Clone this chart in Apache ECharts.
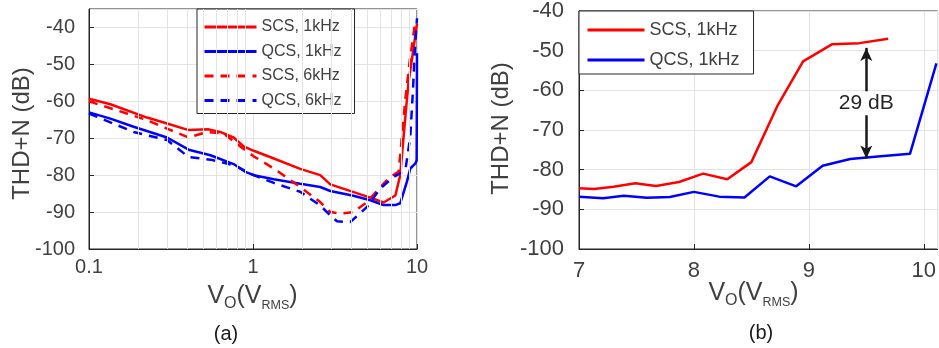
<!DOCTYPE html>
<html>
<head>
<meta charset="utf-8">
<script src="https://cdn.jsdelivr.net/npm/echarts@6/dist/echarts.min.js"></script>
<style>
  html, body { margin: 0; padding: 0; background: #fff; }
  #chart { width: 939px; height: 348px; }
</style>
</head>
<body>
<div id="chart"></div>
<script>
// (a) THD+N vs output level, log x axis
var scs1k = [[0.1, -59.3], [0.135, -60.8], [0.226, -64.4], [0.299, -66.0], [0.405, -67.8], [0.536, -67.6],
  [0.63, -68.3], [0.762, -69.8], [0.877, -72.2], [1.01, -73.4], [1.34, -75.5], [1.94, -78.3], [2.57, -80.0],
  [2.96, -82.5], [5.19, -86.1], [6.25, -87.4], [7.38, -85.5], [7.9, -80.0], [8.49, -64.2], [8.89, -54.5],
  [9.33, -48.4], [10, -39]];
var qcs1k = [[0.1, -63.0], [0.135, -64.7], [0.187, -66.9], [0.299, -69.8], [0.405, -73.1], [0.55, -74.6],
  [0.762, -77.0], [0.9, -79.1], [1.01, -80.0], [1.34, -81.1], [1.94, -82.3], [2.57, -83.2], [2.96, -84.3],
  [4.1, -85.6], [5.19, -86.8], [6.25, -88.1], [7.38, -88.1], [7.91, -87.6], [8.69, -81.7], [9.1, -78.2],
  [9.75, -76.9], [9.95, -76.0], [10, -47]];
var scs6k = [[0.1, -60.0], [0.17, -63.3], [0.226, -65.1], [0.299, -67.4], [0.405, -69.8], [0.524, -68.3],
  [0.66, -68.7], [0.84, -72.3], [1.01, -74.9], [1.34, -78.2], [1.94, -83.2], [2.57, -87.3], [2.96, -90.0],
  [3.4, -90.4], [4.1, -90.0], [4.96, -87.3], [5.97, -83.2], [6.87, -80.5], [7.73, -79.0], [8.49, -59.5],
  [9.0, -49.5], [9.75, -38.5]];
var qcs6k = [[0.1, -63.3], [0.187, -68.3], [0.226, -69.2], [0.299, -70.5], [0.405, -75.1], [0.55, -75.8],
  [0.762, -77.3], [1.01, -80.0], [1.34, -82.1], [1.94, -84.5], [2.57, -88.2], [2.96, -90.9], [3.25, -92.5],
  [3.92, -92.7], [4.96, -88.6], [5.97, -83.6], [7.2, -80.5], [8.49, -78.7], [9.1, -69.5], [9.45, -57.0],
  [9.7, -46.0], [10, -37.5]];

// (b) zoom on 7..10 V
var scs1kZoom = [[7.0, -84.7], [7.13, -84.9], [7.30, -84.3], [7.49, -83.4], [7.67, -84.1], [7.87, -83.1],
  [8.08, -81.0], [8.29, -82.4], [8.50, -78.1], [8.73, -63.7], [8.95, -52.7], [9.20, -48.4], [9.44, -48.1],
  [9.69, -47.0]];
var qcs1kZoom = [[7.0, -86.8], [7.21, -87.2], [7.39, -86.6], [7.59, -87.1], [7.79, -86.9], [8.0, -85.6],
  [8.22, -86.8], [8.44, -87.0], [8.66, -81.7], [8.89, -84.2], [9.12, -79.0], [9.36, -77.3], [9.60, -76.7],
  [9.88, -76.0], [10.11, -53.2]];

var minorGridX = [0.2, 0.3, 0.4, 0.5, 0.6, 0.7, 0.8, 0.9, 2, 3, 4, 5, 6, 7, 8, 9];
var gapX = 9.5;          // where the 29 dB arrow sits
var gapEnds = [-49.3, -77.2];
var gapLabel = '29 dB';

var FONT = "'Liberation Sans', Arial, sans-serif";
var TXT = '#404040';
var AX = '#262626';
var GRIDC = '#e3e3e3';
var RED = '#ff0000', BLUE = '#0000ff';
var DASH = [9, 7];

var chart = echarts.init(document.getElementById('chart'));

function yAxis(idx, max, size, margin) {
  return {
    type: 'value', gridIndex: idx, min: -100, max: max, interval: 10,
    axisLine: { show: true, lineStyle: { color: AX, width: 1 } },
    axisTick: { show: true, inside: true, length: 5, lineStyle: { color: AX } },
    axisLabel: { color: TXT, fontFamily: FONT, fontSize: size, margin: margin, showMaxLabel: max === -40 },
    splitLine: { show: true, lineStyle: { color: GRIDC, width: 1 } }
  };
}

function line(name, data, color, dashed, xi) {
  return {
    name: name, type: 'line', data: data, xAxisIndex: xi, yAxisIndex: xi,
    symbol: 'none', smooth: false, z: 3,
    lineStyle: { color: color, width: 2.5, type: dashed ? DASH : 'solid' },
    itemStyle: { color: color }
  };
}

// legend entry with its own line look, so the icon is a plain stroke
function entry(name, color, dashed) {
  return { name: name, lineStyle: { color: color, width: 3, type: dashed ? DASH : 'solid' } };
}

function xlabel(x, y) {
  return {
    type: 'text', x: x, y: y,
    style: {
      text: '{v|V}{o|O}{v|(V}{r|RMS}{v|)}',
      fill: TXT, align: 'center', verticalAlign: 'top',
      rich: {
        v: { fontFamily: FONT, fontSize: 25, lineHeight: 25, padding: [0, 0, 3, 0], verticalAlign: 'bottom', fill: TXT },
        o: { fontFamily: FONT, fontSize: 16, lineHeight: 16, verticalAlign: 'bottom', fill: TXT },
        r: { fontFamily: FONT, fontSize: 12.5, lineHeight: 12.5, verticalAlign: 'bottom', fill: TXT }
      }
    }
  };
}

function legend(items, left, top, w, size, gap, pad) {
  return {
    data: items, orient: 'vertical', left: left, top: top,
    itemWidth: w, itemHeight: 2, itemGap: gap, padding: pad,
    backgroundColor: '#fff', borderColor: AX, borderWidth: 1, borderRadius: 0,
    itemStyle: { opacity: 0 },
    textStyle: { color: TXT, fontFamily: FONT, fontSize: size, lineHeight: size },
    selectedMode: false
  };
}

var option = {
  backgroundColor: '#fff',
  animation: false,
  grid: [
    { left: 89, top: 9, width: 328, height: 240, show: true, borderColor: AX, borderWidth: 1, backgroundColor: '#fff' },
    { left: 579, top: 11, width: 361, height: 238, show: true, borderColor: AX, borderWidth: 1, backgroundColor: '#fff' }
  ],
  xAxis: [
    {
      type: 'log', logBase: 10, gridIndex: 0, min: 0.1, max: 10,
      axisLine: { show: true, lineStyle: { color: AX } },
      axisTick: { show: true, inside: true, length: 5, lineStyle: { color: AX } },
      axisLabel: {
        color: TXT, fontFamily: FONT, fontSize: 20, margin: 8,
        formatter: function (v) { return String(+(+v).toPrecision(3)); }
      },
      splitLine: { show: true, lineStyle: { color: GRIDC } }
    },
    {
      type: 'value', gridIndex: 1, min: 7, max: 10.12, interval: 1,
      axisLine: { show: true, lineStyle: { color: AX } },
      axisTick: { show: true, inside: true, length: 5, lineStyle: { color: AX } },
      axisLabel: { color: TXT, fontFamily: FONT, fontSize: 22, margin: 11, showMaxLabel: false },
      splitLine: { show: true, lineStyle: { color: GRIDC } }
    }
  ],
  yAxis: [yAxis(0, -35, 20, 14), yAxis(1, -40, 22, 15)],
  legend: [
    legend([entry('SCS, 1kHz', RED, false), entry('QCS, 1kHz', BLUE, false),
            entry('SCS, 6kHz', RED, true), entry('QCS, 6kHz', BLUE, true)],
           197, 9, 52, 16, 8.5, [10, 13, 5, 6]),
    legend([entry('SCS, 1kHz', RED, false), entry('QCS, 1kHz', BLUE, false)],
           579, 11, 57, 18, 12, [10, 14, 5, 7])
  ],
  series: [
    {
      name: 'minor grid', type: 'line', data: [], xAxisIndex: 0, yAxisIndex: 0, z: 1, silent: true,
      markLine: {
        silent: true, symbol: ['none', 'none'], label: { show: false },
        lineStyle: { color: GRIDC, width: 1, type: 'solid' },
        data: minorGridX.map(function (v) { return { xAxis: v }; })
      }
    },
    line('SCS, 1kHz', scs1k, RED, false, 0),
    line('QCS, 1kHz', qcs1k, BLUE, false, 0),
    line('SCS, 6kHz', scs6k, RED, true, 0),
    line('QCS, 6kHz', qcs6k, BLUE, true, 0),
    line('SCS, 1kHz', scs1kZoom, RED, false, 1),
    Object.assign(line('QCS, 1kHz', qcs1kZoom, BLUE, false, 1), {
      markLine: {
        silent: true, symbol: ['arrow', 'arrow'], symbolSize: [9, 13], label: { show: false },
        lineStyle: { color: '#1a1a1a', width: 2.5, type: 'solid' },
        data: [[{ coord: [gapX, gapEnds[0]] }, { coord: [gapX, gapEnds[1]] }]]
      },
      markPoint: {
        silent: true, symbol: 'rect', symbolSize: [54, 24],
        itemStyle: { color: '#fff' },
        label: { show: true, position: 'inside', formatter: gapLabel, color: '#262626', fontFamily: FONT, fontSize: 21 },
        data: [{ coord: [gapX, (gapEnds[0] + gapEnds[1]) / 2] }]
      }
    })
  ],
  graphic: [
    { type: 'text', x: 22, y: 133.5, rotation: Math.PI / 2,
      style: { text: 'THD+N (dB)', font: '24px ' + FONT, fill: TXT, align: 'center', verticalAlign: 'middle' } },
    { type: 'text', x: 501.5, y: 128.5, rotation: Math.PI / 2,
      style: { text: 'THD+N (dB)', font: '24px ' + FONT, fill: TXT, align: 'center', verticalAlign: 'middle' } },
    xlabel(252.5, 287),
    xlabel(753.5, 284),
    { type: 'text', x: 226, y: 334, style: { text: '(a)', font: '20px ' + FONT, fill: '#1a1a1a', align: 'center', verticalAlign: 'middle' } },
    { type: 'text', x: 761, y: 333, style: { text: '(b)', font: '20px ' + FONT, fill: '#1a1a1a', align: 'center', verticalAlign: 'middle' } }
  ]
};

chart.setOption(option);
</script>
</body>
</html>
